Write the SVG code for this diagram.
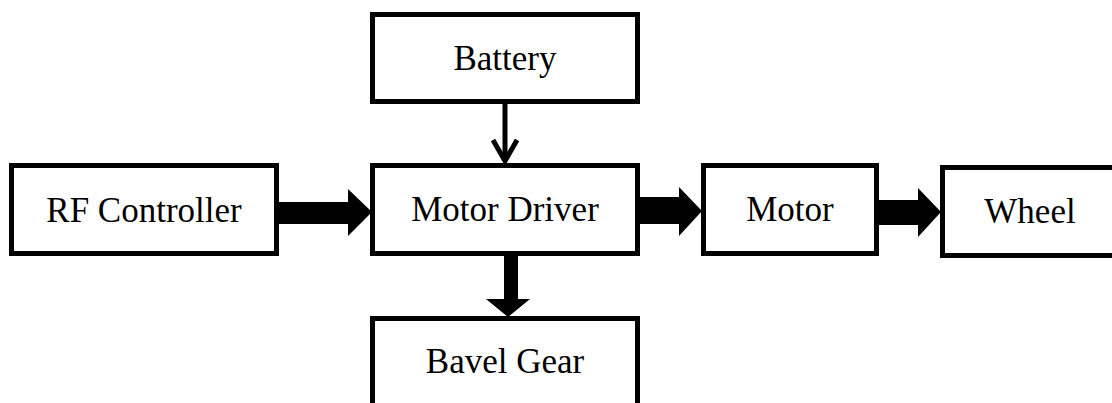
<svg xmlns="http://www.w3.org/2000/svg" width="1112" height="403" viewBox="0 0 1112 403">
  <style>
    .box { fill: #ffffff; stroke: #000000; stroke-width: 5; }
    .lbl { font-family: "Liberation Serif", "Times New Roman", serif; font-size: 35px; fill: #000000; text-anchor: middle; }
    .fat { fill: #000000; stroke: none; }
    .thin { fill: none; stroke: #000000; stroke-width: 5; }
  </style>
  <rect x="0" y="0" width="1112" height="403" fill="#ffffff"/>
  <g id="rf-controller">
    <rect class="box" x="11.5" y="165.5" width="265" height="88"/>
    <text class="lbl" x="144" y="222">RF Controller</text>
  </g>
  <g id="battery">
    <rect class="box" x="372.5" y="14.5" width="265" height="87"/>
    <text class="lbl" x="505" y="70">Battery</text>
  </g>
  <g id="motor-driver">
    <rect class="box" x="372.5" y="165.5" width="265" height="88"/>
    <text class="lbl" x="505" y="221">Motor Driver</text>
  </g>
  <g id="bavel-gear">
    <rect class="box" x="372.5" y="318.5" width="265" height="92"/>
    <text class="lbl" x="505" y="373">Bavel Gear</text>
  </g>
  <g id="motor">
    <rect class="box" x="703.5" y="165.5" width="173" height="88"/>
    <text class="lbl" x="790" y="221">Motor</text>
  </g>
  <g id="wheel">
    <rect class="box" x="942.5" y="167.5" width="180" height="88"/>
    <text class="lbl" x="1030" y="223">Wheel</text>
  </g>
  <g id="connectors">
    <polygon class="fat" points="279,202 348,202 348,189 372,212 348,236 348,224 279,224"/>
    <polygon class="fat" points="640,197 679,197 679,187 702,211 679,236 679,224 640,224"/>
    <polygon class="fat" points="879,200 918,200 918,188 941,212 918,237 918,225 879,225"/>
    <polygon class="fat" points="504,256 518,256 518,299 530,299 508,317 486,299 504,299"/>
    <line class="thin" x1="505" y1="104" x2="505" y2="161"/>
    <polyline class="thin" points="493,140 505,161 517,140"/>
  </g>
</svg>
